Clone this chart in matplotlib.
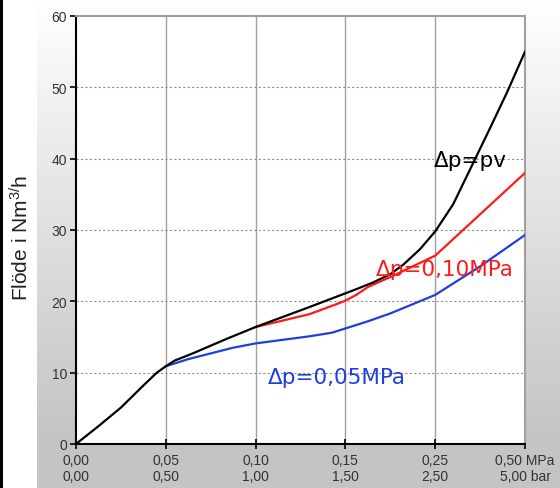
import numpy as np
import matplotlib
matplotlib.use("Agg")
import matplotlib.pyplot as plt
from matplotlib.patches import Rectangle

plt.rcParams['font.family'] = ['Liberation Sans', 'DejaVu Sans']
plt.rcParams['mathtext.fontset'] = 'custom'
plt.rcParams['mathtext.rm'] = 'Liberation Sans'
plt.rcParams['mathtext.it'] = 'Liberation Sans'
plt.rcParams['mathtext.default'] = 'regular'

# ---- data ----
tick_labels = ["0,00\n0,00", "0,05\n0,50", "0,10\n1,00", "0,15\n1,50",
               "0,25\n2,50", "0,50 MPa\n5,00 bar"]

pv_x = [0, 0.25, 0.5, 0.75, 0.9, 1.0, 1.1, 1.3, 1.67, 2.0, 2.6, 3.12, 3.3, 3.5,
        3.65, 3.83, 4.0, 4.2, 4.4, 4.6, 4.8, 5.0]
pv_y = [0, 2.5, 5.1, 8.2, 10.0, 10.9, 11.7, 12.7, 14.7, 16.4, 19.2, 21.7, 22.6, 23.8,
        25.2, 27.3, 29.8, 33.6, 38.8, 44.0, 49.3, 55.0]

p010_x = [2.0, 2.6, 2.9, 3.0, 3.12, 3.25, 3.5, 3.75, 4.0, 4.5, 5.0]
p010_y = [16.4, 18.2, 19.6, 20.1, 20.9, 22.0, 23.4, 24.9, 26.4, 32.2, 38.0]

p005_x = [1.0, 1.25, 1.5, 1.75, 2.0, 2.3, 2.6, 2.85, 3.0, 3.25, 3.5, 4.0, 4.5, 5.0]
p005_y = [10.9, 11.9, 12.7, 13.5, 14.1, 14.6, 15.1, 15.6, 16.2, 17.2, 18.3, 20.9, 24.9, 29.3]

y_ticks = [0, 10, 20, 30, 40, 50, 60]

W, H = 560, 489
fig = plt.figure(figsize=(W / 100, H / 100), dpi=100)
fig.patch.set_facecolor('white')

# background gradient panel
bg = fig.add_axes([37 / W, 0, 1 - 37 / W, 1], zorder=-2)
grad = np.linspace(1.0, 0.77, 256)
grad = np.clip(np.concatenate([grad, np.full(30, 0.77)]), 0, 1)
img = np.repeat(grad[:, None], 10, axis=1)
bg.imshow(np.dstack([img, img, img]), aspect='auto', extent=[0, 1, 0, 1])
bg.set_axis_off()

# black strip at far left
fig.patches.append(Rectangle((0, 0), 3 / W, 1, transform=fig.transFigure,
                             facecolor='black', edgecolor='none', zorder=5))

ax = fig.add_axes([76 / W, 1 - 445 / H, (525 - 76) / W, (445 - 17) / H])
ax.set_facecolor('white')

ax.plot(pv_x, pv_y, color='black', lw=1.6, solid_joinstyle='round', zorder=4)
ax.plot(p010_x, p010_y, color='#ff1a1a', lw=1.6, solid_joinstyle='round', zorder=3)
ax.plot(p005_x, p005_y, color='#1f3fdc', lw=1.6, solid_joinstyle='round', zorder=3)

ax.set_xlim(0, 5)
ax.set_ylim(0, 60)
ax.set_xticks(range(len(tick_labels)))
ax.set_xticklabels(tick_labels, fontsize=10, color='#333333', linespacing=1.2)
ax.set_yticks(y_ticks)
ax.set_yticklabels([str(v) for v in y_ticks], fontsize=10, color='#333333')

ax.tick_params(axis='x', direction='inout', length=7, width=1.2, color='black', pad=3)
ax.tick_params(axis='y', direction='out', length=4.5, width=1.2, color='black', pad=2)

for v in range(1, 5):
    ax.axvline(v, color='#a0a0a0', lw=1.0, zorder=1)
for v in y_ticks[1:-1]:
    ax.axhline(v, color='#909090', lw=0.8, ls=(0, (2, 2)), zorder=1)

ax.spines['left'].set_color('black')
ax.spines['bottom'].set_color('black')
ax.spines['left'].set_linewidth(1.5)
ax.spines['bottom'].set_linewidth(1.5)
ax.spines['top'].set_color('#a0a0a0')
ax.spines['right'].set_color('#a0a0a0')
ax.spines['top'].set_linewidth(1.5)
ax.spines['right'].set_linewidth(1.5)

lab_font = ['DejaVu Sans']
ax.text(4.39, 39.8, "Δp=pv", color='black', fontsize=15.5, ha='center', va='center',
        family=lab_font, zorder=6)
ax.text(4.11, 24.5, "Δp=0,10MPa", color='#ff1a1a', fontsize=15.5, ha='center', va='center',
        family=lab_font, zorder=6)
ax.text(2.90, 9.4, "Δp=0,05MPa", color='#1f3fdc', fontsize=15.5, ha='center', va='center',
        family=lab_font, zorder=6)

fig.text(21 / W, 1 - 238 / H, "Flöde i Nm$^{3/}$h", rotation=90, ha='center', va='center',
         fontsize=15, color='#222222')

fig.savefig("out.png", dpi=100)
